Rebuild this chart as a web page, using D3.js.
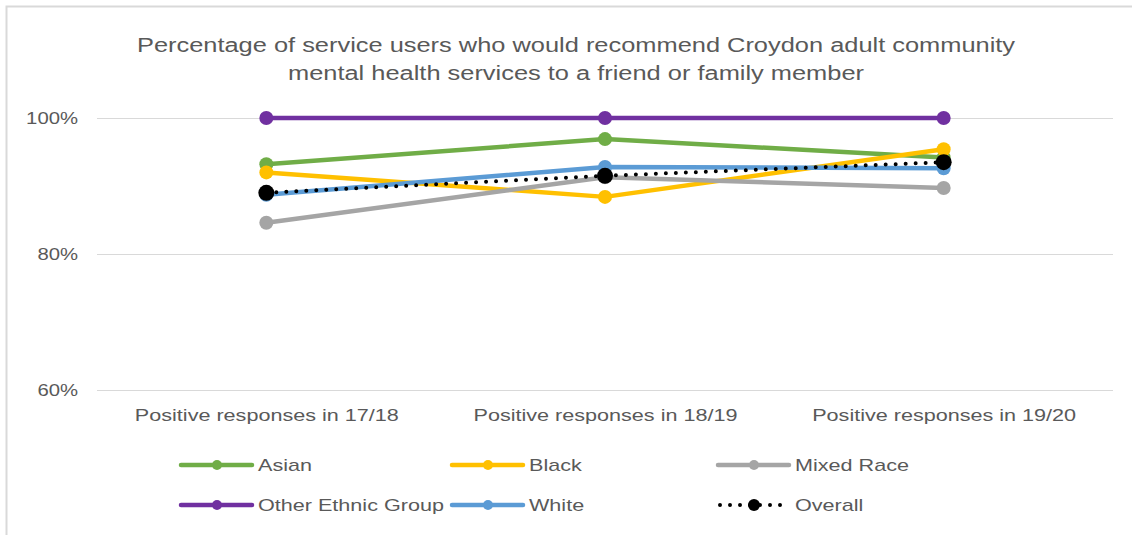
<!DOCTYPE html>
<html>
<head>
<meta charset="utf-8">
<script src="https://cdn.jsdelivr.net/npm/d3@7"></script>
<style>
  html, body { margin: 0; padding: 0; background: #fff; }
  svg { display: block; font-family: "Liberation Sans", Arial, sans-serif; }
</style>
</head>
<body>
<svg id="chart" width="1132" height="535"></svg>
<script>
// Survey periods along the x axis
const categories = ["Positive responses in 17/18", "Positive responses in 18/19", "Positive responses in 19/20"];

// Percentage recommending the service, by ethnic group
const asian = [93.2, 96.9, 94.2];
const black = [92.0, 88.4, 95.4];
const mixedRace = [84.6, 91.3, 89.7];
const otherEthnic = [100, 100, 100];
const white = [88.7, 92.8, 92.6];
const overall = [89.0, 91.5, 93.5];

const yTicks = [60, 80, 100];

const series = [
  { name: "Asian", values: asian, color: "#70AD47" },
  { name: "Black", values: black, color: "#FFC000" },
  { name: "Mixed Race", values: mixedRace, color: "#A5A5A5" },
  { name: "Other Ethnic Group", values: otherEthnic, color: "#7030A0" },
  { name: "White", values: white, color: "#5B9BD5" },
  { name: "Overall", values: overall, color: "#000000", dotted: true }
];

const svg = d3.select("#chart");
const textColor = "#595959";
const stretch = "scale(1.27,1)";   // wide text rendering

// Chart frame (top and left edges)
svg.append("path")
  .attr("d", "M6.5,535 V6.5 H1132")
  .attr("fill", "none")
  .attr("stroke", "#d9d9d9")
  .attr("stroke-width", 2);

// Title
[["Percentage of service users who would recommend Croydon adult community", 52],
 ["mental health services to a friend or family member", 80]].forEach(([t, ty]) => {
  svg.append("g")
    .attr("transform", `translate(576,${ty})`)
    .append("text")
    .attr("transform", stretch)
    .attr("text-anchor", "middle")
    .attr("fill", textColor)
    .attr("font-size", 20)
    .text(t);
});

const plotLeft = 97, plotRight = 1113;
const x = d3.scalePoint().domain(categories).range([plotLeft, plotRight]).padding(0.5);
const y = d3.scaleLinear().domain([60, 100]).range([390, 118]);

// Gridlines
svg.append("g")
  .selectAll("line")
  .data(yTicks)
  .join("line")
  .attr("x1", plotLeft).attr("x2", plotRight)
  .attr("y1", d => y(d) + 0.5).attr("y2", d => y(d) + 0.5)
  .attr("stroke", "#d9d9d9")
  .attr("stroke-width", 1);

// Y axis
const yAxis = svg.append("g")
  .attr("transform", "translate(78,0)")
  .call(d3.axisLeft(y).tickValues(yTicks).tickFormat(d => d + "%").tickSize(0).tickPadding(0));
yAxis.select(".domain").remove();
yAxis.selectAll("text")
  .attr("transform", stretch)
  .attr("fill", textColor)
  .attr("font-size", 16)
  .attr("font-family", "Liberation Sans, Arial, sans-serif");

// X axis labels
const xAxis = svg.append("g")
  .attr("transform", "translate(0,390)")
  .call(d3.axisBottom(x).tickSize(0).tickPadding(19));
xAxis.select(".domain").remove();
xAxis.selectAll("text")
  .attr("transform", stretch)
  .attr("fill", textColor)
  .attr("font-size", 17)
  .attr("font-family", "Liberation Sans, Arial, sans-serif");

const line = d3.line()
  .x((d, i) => x(categories[i]))
  .y(d => y(d));

// Series lines and markers
series.forEach(s => {
  const g = svg.append("g");
  if (s.dotted) {
    g.append("path")
      .attr("d", line(s.values))
      .attr("fill", "none")
      .attr("stroke", s.color)
      .attr("stroke-width", 4)
      .attr("stroke-linecap", "round")
      .attr("stroke-dasharray", "0 10");
  } else {
    g.append("path")
      .attr("d", line(s.values))
      .attr("fill", "none")
      .attr("stroke", s.color)
      .attr("stroke-width", 4.5)
      .attr("stroke-linejoin", "round");
  }
  g.selectAll("circle")
    .data(s.values)
    .join("circle")
    .attr("cx", (d, i) => x(categories[i]))
    .attr("cy", d => y(d))
    .attr("r", s.dotted ? 8 : 7)
    .attr("fill", s.color);
});

// Legend
const legendCols = [181, 452, 718];
const legendRows = [465, 505];
series.forEach((s, i) => {
  const lx = legendCols[i % 3];
  const ly = legendRows[Math.floor(i / 3)];
  const g = svg.append("g");
  if (s.dotted) {
    g.append("line")
      .attr("x1", lx + 2).attr("x2", lx + 70)
      .attr("y1", ly).attr("y2", ly)
      .attr("stroke", s.color)
      .attr("stroke-width", 4)
      .attr("stroke-linecap", "round")
      .attr("stroke-dasharray", "0 10");
    g.append("circle").attr("cx", lx + 36).attr("cy", ly).attr("r", 6).attr("fill", s.color);
  } else {
    g.append("line")
      .attr("x1", lx).attr("x2", lx + 71)
      .attr("y1", ly).attr("y2", ly)
      .attr("stroke", s.color)
      .attr("stroke-width", 4.5)
      .attr("stroke-linecap", "round");
    g.append("circle").attr("cx", lx + 36).attr("cy", ly).attr("r", 5).attr("fill", s.color);
  }
  g.append("g")
    .attr("transform", `translate(${lx + 77},${ly})`)
    .append("text")
    .attr("transform", stretch)
    .attr("dy", "0.35em")
    .attr("fill", textColor)
    .attr("font-size", 17)
    .text(s.name);
});
</script>
</body>
</html>
